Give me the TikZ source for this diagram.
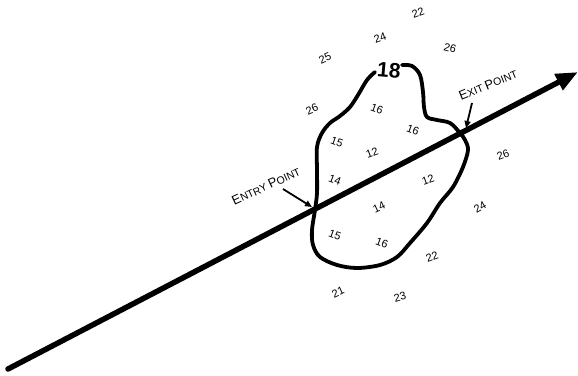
\documentclass[tikz,border=0pt]{standalone}
\usepackage{fontspec}
\setmainfont{Liberation Sans}
\usetikzlibrary{arrows.meta}
\begin{document}
\begin{tikzpicture}[x=1pt,y=-1pt,
  num/.style={font=\fontsize{11}{11}\selectfont, inner sep=0pt},
  tag/.style={font=\fontsize{10.5}{10.5}\selectfont, inner sep=0pt},
  pointer/.style={line width=1.8pt, -{Triangle[length=7pt,width=6pt]}}]
\useasboundingbox (0,0) rectangle (578,375);

% the path through the region
\coordinate (start) at (8,369);
\coordinate (tip) at (578,72);
\draw[line width=5.5pt, line cap=round, -{Triangle[length=22pt,width=17pt]}] (start) -- (tip);

% outline of the region
\draw[line width=3.8pt, line cap=round] plot[smooth, tension=0.55] coordinates {
  (375,72) (367,80) (358,95) (350,107) (340,116) (330,123) (322,133)
  (317,147) (317,170) (317,193) (315,210) (312,230) (313,245) (320,257)
  (337,265) (357,268) (380,265) (397,257) (410,243) (427,223) (440,203)
  (453,187) (463,167) (468,150) (465,140) (460,133) (450,123) (437,120)
  (427,117) (424,107) (423,92) (420,75) (412,66) (402,65)};
\node[font=\bfseries\fontsize{21}{21}\selectfont, inner sep=0pt, rotate=-5] (top) at (389,70) {18};

% values outside
\node[num, rotate=20] (v22a) at (418,13) {22};
\node[num, rotate=20] (v24a) at (380,38) {24};
\node[num, rotate=25] (v25) at (325,58) {25};
\node[num, rotate=-15] (v26a) at (450,48) {26};
\node[num, rotate=25] (v26b) at (312,109) {26};
\node[num, rotate=20] (v26c) at (503,155) {26};
\node[num, rotate=30] (v24b) at (480,207) {24};
\node[num, rotate=20] (v22b) at (432,257) {22};
\node[num, rotate=25] (v21) at (338,292) {21};
\node[num, rotate=15] (v23) at (400,297) {23};

% values inside
\node[num, rotate=-20] (v16a) at (377,109) {16};
\node[num, rotate=-20] (v16b) at (413,130) {16};
\node[num, rotate=-20] (v15a) at (337,142) {15};
\node[num, rotate=20] (v12a) at (372,153) {12};
\node[num, rotate=-20] (v14a) at (335,180) {14};
\node[num, rotate=20] (v12b) at (428,180) {12};
\node[num, rotate=25] (v14b) at (379,207) {14};
\node[num, rotate=-20] (v15b) at (335,235) {15};
\node[num, rotate=-20] (v16c) at (382,243) {16};

% entry and exit
\node[tag, rotate=25] (entry) at (266,186) {{\fontsize{13}{13}\selectfont E}NTRY {\fontsize{13}{13}\selectfont P}OINT};
\coordinate (entrytail) at (283,189);
\coordinate (entrypt) at (312,207);
\draw[pointer] (entrytail) -- (entrypt);

\node[tag, rotate=22] (exit) at (488,85) {{\fontsize{13}{13}\selectfont E}XIT {\fontsize{13}{13}\selectfont P}OINT};
\coordinate (exittail) at (472,103);
\coordinate (exitpt) at (466,128);
\draw[pointer] (exittail) -- (exitpt);
\end{tikzpicture}
\end{document}
